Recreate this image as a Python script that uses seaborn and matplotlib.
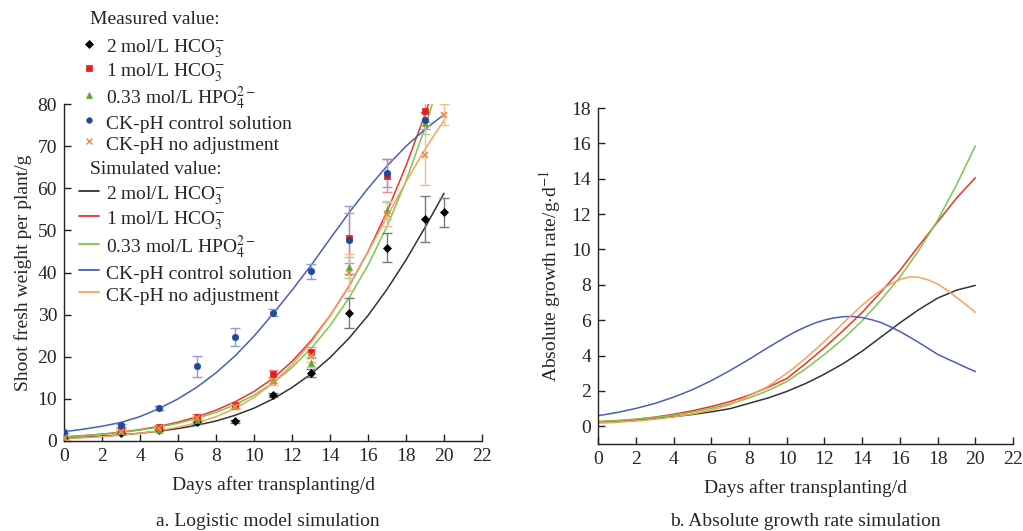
import numpy as np
import pandas as pd
import matplotlib
matplotlib.use("Agg")
import matplotlib.pyplot as plt
from matplotlib.lines import Line2D
import seaborn as sns

sns.set_theme(style="ticks")
plt.rcParams["font.family"] = ["Liberation Serif", "DejaVu Serif"]
plt.rcParams["mathtext.fontset"] = "stix"

# ---- treatments -------------------------------------------------------
labels = [
    r"2 mol/L HCO$_3^{-}$",
    r"1 mol/L HCO$_3^{-}$",
    r"0.33 mol/L HPO$_4^{2-}$",
    "CK-pH control solution",
    "CK-pH no adjustment",
]

# ---- measured shoot fresh weight (g) ------------------------------------
days_meas = [0, 3, 5, 7, 9, 11, 13, 15, 17, 19, 20]
meas_hco3_2 = [0.8, 2.0, 2.6, 4.5, 4.7, 11.0, 16.1, 30.4, 45.9, 52.7, 54.3]
err_hco3_2 = [0.1, 0.3, 0.3, 0.4, 0.4, 0.5, 1.0, 3.5, 3.5, 5.5, 3.5]
meas_hco3_1 = [1.0, 2.7, 3.4, 5.8, 8.5, 16.0, 21.2, 48.2, 63.0, 78.3, np.nan]
err_hco3_1 = [0.2, 0.4, 0.4, 0.6, 0.6, 0.8, 1.2, 6.0, 4.0, 2.5, np.nan]
meas_hpo4 = [0.9, 2.4, 2.7, 5.1, 8.2, 14.5, 18.6, 41.2, 54.8, 75.4, np.nan]
err_hpo4 = [0.2, 0.3, 0.3, 0.5, 0.6, 0.8, 1.0, 2.5, 2.0, 2.5, np.nan]
meas_ck_ctrl = [2.2, 3.7, 7.8, 17.7, 24.7, 30.5, 40.3, 47.7, 63.7, 76.1, np.nan]
err_ck_ctrl = [0.2, 0.4, 0.4, 2.5, 2.2, 0.9, 1.8, 8.0, 3.3, 2.0, np.nan]
meas_ck_none = [0.6, 2.2, 3.0, 5.5, 8.0, 14.1, 20.2, 40.0, 54.0, 67.8, 77.5]
err_ck_none = [0.1, 0.3, 0.3, 0.5, 0.5, 0.8, 1.5, 4.4, 3.0, 7.0, 2.5]

# ---- simulated shoot fresh weight, day 0..20 ----------------------------
days_sim = list(range(21))
sim_hco3_2 = [0.7, 0.9, 1.15, 1.45, 1.85, 2.35, 2.95, 3.75, 4.75, 6.1, 7.8,
              10.0, 12.7, 15.9, 19.8, 24.4, 29.8, 36.0, 43.0, 50.7, 58.8]
sim_hco3_1 = [1.0, 1.28, 1.64, 2.1, 2.7, 3.48, 4.48, 5.74, 7.32, 9.3, 11.75,
              14.88, 18.88, 23.81, 29.74, 36.76, 44.97, 54.47, 65.35, 77.58, 91.06]
sim_hpo4 = [0.9, 1.21, 1.57, 2.02, 2.59, 3.3, 4.21, 5.36, 6.8, 8.61, 10.89,
            13.78, 17.44, 21.95, 27.41, 33.97, 41.76, 50.95, 61.75, 74.4, 89.15]
sim_ck_ctrl = [2.2, 2.8, 3.5, 4.4, 5.8, 7.7, 10.0, 12.8, 16.2, 20.2, 24.9,
               30.2, 35.8, 41.7, 48.0, 54.2, 60.0, 65.3, 70.0, 74.0, 77.5]
sim_ck_none = [0.55, 0.76, 1.02, 1.37, 1.84, 2.45, 3.26, 4.33, 5.77, 7.72, 10.34,
               13.77, 18.09, 23.39, 29.69, 36.92, 44.89, 53.27, 61.54, 69.27, 76.17]

# ---- absolute growth rate (g/d) ------------------------------------------
# daily values; the two curves with a turning point are given every half day
# from day 10 on
days_agr = list(range(21))
days_agr_fine = list(range(10)) + [10 + 0.5 * k for k in range(21)]
agr_hco3_2 = [0.25, 0.3, 0.36, 0.45, 0.55, 0.67, 0.82, 1.0, 1.3, 1.6, 1.97,
              2.42, 2.95, 3.55, 4.25, 5.05, 5.85, 6.6, 7.25, 7.7, 7.97]
agr_hco3_1 = [0.25, 0.31, 0.4, 0.52, 0.68, 0.88, 1.12, 1.4, 1.76, 2.2, 2.7,
              3.55, 4.45, 5.42, 6.44, 7.6, 8.81, 10.2, 11.56, 12.9, 14.06]
agr_hpo4 = [0.28, 0.33, 0.4, 0.5, 0.63, 0.8, 1.02, 1.28, 1.6, 2.02, 2.53,
            3.25, 4.07, 4.95, 5.97, 7.15, 8.43, 9.95, 11.65, 13.65, 15.86]
agr_ck_ctrl = [0.6, 0.78, 1.01, 1.29, 1.65, 2.07, 2.58, 3.16, 3.79, 4.45,
               5.08, 5.37, 5.62, 5.84, 6.01, 6.13, 6.2, 6.21, 6.15, 6.03,
               5.87, 5.63, 5.36, 5.06, 4.74, 4.41, 4.07, 3.82, 3.58, 3.33, 3.1]
agr_ck_none = [0.18, 0.23, 0.3, 0.4, 0.53, 0.7, 0.92, 1.22, 1.72, 2.25,
               3.0, 3.4, 3.85, 4.32, 4.8, 5.32, 5.85, 6.35, 6.85, 7.3,
               7.7, 8.05, 8.3, 8.45, 8.43, 8.28, 8.05, 7.7, 7.29, 6.88, 6.45]

line_colors = ["#333333", "#e8352a", "#7cc84a", "#4a5fb5", "#f6a25c"]
point_colors = ["#000000", "#e0201c", "#5aa832", "#1f4a9e", "#ec8c48"]
err_colors = ["#7a7a7a", "#f08c86", "#a9d88a", "#8f9ad6", "#f5b98a"]
markers = ["D", "s", "^", "o", "x"]
msizes = [4.2, 4.6, 5.0, 4.6, 5.0]

meas = [meas_hco3_2, meas_hco3_1, meas_hpo4, meas_ck_ctrl, meas_ck_none]
errs = [err_hco3_2, err_hco3_1, err_hpo4, err_ck_ctrl, err_ck_none]
sims = [sim_hco3_2, sim_hco3_1, sim_hpo4, sim_ck_ctrl, sim_ck_none]
agrs = [agr_hco3_2, agr_hco3_1, agr_hpo4, agr_ck_ctrl, agr_ck_none]
agr_days = [days_agr, days_agr, days_agr, days_agr_fine, days_agr_fine]

sim_df = pd.DataFrame({
    "day": np.tile(days_sim, len(labels)),
    "weight": np.concatenate(sims),
    "treatment": np.repeat(labels, len(days_sim)),
})
agr_df = pd.concat([
    pd.DataFrame({"day": d, "rate": r, "treatment": lab})
    for d, r, lab in zip(agr_days, agrs, labels)
], ignore_index=True)
palette = dict(zip(labels, line_colors))

fs = 14
fig = plt.figure(figsize=(10.23, 5.31), dpi=100)
ax1 = fig.add_axes([0.0626, 0.1695, 0.4086, 0.6346])
ax2 = fig.add_axes([0.5846, 0.1638, 0.4057, 0.6328])

# panel a: logistic fit with measured points
sns.lineplot(data=sim_df, x="day", y="weight", hue="treatment", palette=palette,
             legend=False, linewidth=1.1, ax=ax1)
for i in range(len(labels)):
    ax1.errorbar(days_meas, meas[i], yerr=errs[i], fmt="none", ecolor=err_colors[i],
                 elinewidth=1.0, capsize=3.5, capthick=1.0, zorder=3)
    ax1.plot(days_meas, meas[i], linestyle="none", marker=markers[i],
             markersize=msizes[i], color=point_colors[i],
             markeredgewidth=1.2 if markers[i] == "x" else 0.5, zorder=4)

ax1.set_xlim(0, 22)
ax1.set_ylim(0, 80)
ax1.set_xticks(range(0, 23, 2))
ax1.set_yticks(range(0, 81, 10))
ax1.set_xlabel("Days after transplanting/d", fontsize=fs, labelpad=8)
ax1.set_ylabel("Shoot fresh weight per plant/g", fontsize=fs, labelpad=4)

# panel b: absolute growth rate
sns.lineplot(data=agr_df, x="day", y="rate", hue="treatment", palette=palette,
             legend=False, linewidth=1.1, ax=ax2)
ax2.set_xlim(0, 22)
ax2.set_ylim(-1, 18)
ax2.set_xticks(range(0, 23, 2))
ax2.set_yticks(range(0, 19, 2))
ax2.set_xlabel("Days after transplanting/d", fontsize=fs, labelpad=8)
ax2.set_ylabel(r"Absolute growth rate/g$\cdot$d$^{-1}$", fontsize=fs, labelpad=6)

for ax in (ax1, ax2):
    sns.despine(ax=ax)
    for s in ("left", "bottom"):
        ax.spines[s].set_color("#222222")
        ax.spines[s].set_linewidth(1.0)
    ax.tick_params(direction="in", length=5, width=1.0, color="#222222",
                   labelsize=fs, pad=5)

# legends: measured markers and simulated lines, each under its own heading
meas_handles = [Line2D([], [], linestyle="none", marker=markers[i],
                       markersize=msizes[i] - 0.6, color=point_colors[i],
                       markeredgewidth=1.0 if markers[i] == "x" else 0.5)
                for i in range(len(labels))]
sim_handles = [Line2D([], [], color=line_colors[i], linewidth=1.3)
               for i in range(len(labels))]

row_kw = dict(loc="upper left", frameon=False, fontsize=fs,
              handleheight=1.28, borderpad=0, borderaxespad=0)
fig.legend(meas_handles, labels, bbox_to_anchor=(89 / 1023, 1 - 35.5 / 531),
           handlelength=0.0, handletextpad=0.87, labelspacing=0.0, **row_kw)
fig.legend(sim_handles, labels, bbox_to_anchor=(79 / 1023, 1 - 182.5 / 531),
           handlelength=1.03, handletextpad=0.36, labelspacing=0.05, **row_kw)
fig.text(90 / 1023, 1 - 20 / 531, "Measured value:", ha="left", va="center",
         fontsize=fs)
fig.text(90 / 1023, 1 - 170 / 531, "Simulated value:", ha="left", va="center",
         fontsize=fs)

fig.text(268 / 1023, 1 - 521 / 531, "a. Logistic model simulation",
         ha="center", va="center", fontsize=fs)
fig.text(805 / 1023, 1 - 521 / 531, "b. Absolute growth rate simulation",
         ha="center", va="center", fontsize=fs)

fig.savefig("out.png", dpi=100)
